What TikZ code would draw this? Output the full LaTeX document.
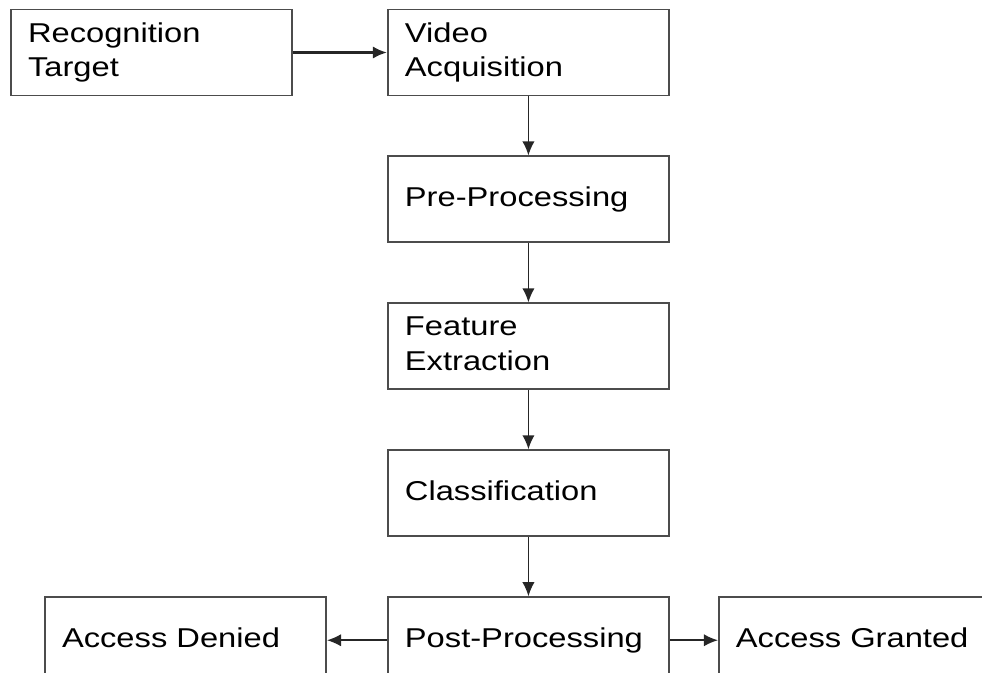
\documentclass[tikz,border=0pt]{standalone}
\usepackage{fontspec}
\setmainfont{Liberation Sans}[FakeStretch=1.2]
\usetikzlibrary{arrows.meta,positioning}

\begin{document}
\begin{tikzpicture}[node distance=1.18cm,
  >={Latex[length=8pt,width=7pt]},
  stage/.style={rectangle,draw=black!70,line width=1.1pt,
    minimum width=5.62cm,minimum height=1.72cm,
    inner xsep=0.34cm,text width=4.94cm,align=left,
    execute at begin node=\strut,execute at end node=\strut,
    font=\fontsize{15.5}{19.9}\selectfont},
  flow/.style={->,line width=0.9pt,black!85}]

\useasboundingbox (0,0) rectangle (19.64,-13.44);
\clip (0,0) rectangle (19.64,-13.44);

% input and capture
\node[stage] (target) at (3.03,-1.05) {Recognition\\Target};
\node[stage,right=1.88cm of target] (video) {Video\\Acquisition};

% processing chain
\node[stage,below=of video] (pre) {Pre-Processing};
\node[stage,below=of pre] (feat) {Feature\\Extraction};
\node[stage,below=of feat] (cls) {Classification};
\node[stage,below=of cls] (post) {Post-Processing};

% decision
\node[stage,left=1.2cm of post] (denied) {Access Denied};
\node[stage,right=0.96cm of post] (granted) {Access Granted};

\draw[flow,line width=1.4pt] (target) -- (video);
\draw[flow] (video) -- (pre);
\draw[flow] (pre) -- (feat);
\draw[flow] (feat) -- (cls);
\draw[flow] (cls) -- (post);
\draw[flow] (post) -- (denied);
\draw[flow] (post) -- (granted);

\end{tikzpicture}
\end{document}
